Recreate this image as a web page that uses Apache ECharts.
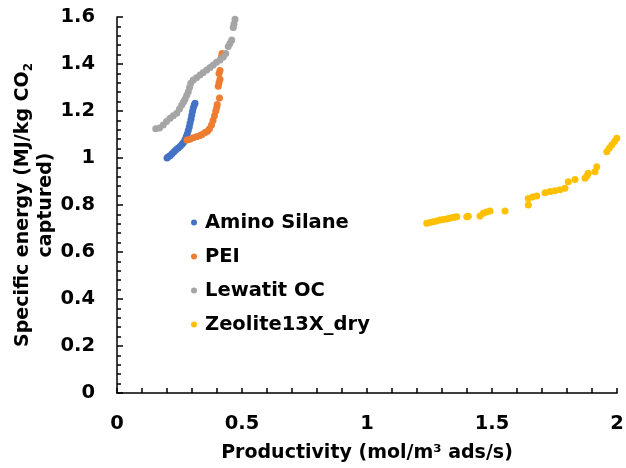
<!DOCTYPE html>
<html><head><meta charset="utf-8">
<script src="https://cdn.jsdelivr.net/npm/echarts@6/dist/echarts.min.js"></script>
<style>html,body{margin:0;padding:0;background:#fff}#c{width:626px;height:468px}</style>
</head><body><div id="c"></div>
<script>
const seriesNames = ['Amino Silane','PEI','Lewatit OC','Zeolite13X_dry'];
const xTicks = [0,0.5,1,1.5,2];
const yTicks = [0,0.2,0.4,0.6,0.8,1,1.2,1.4,1.6];
const aminoSilane = [[0.200,1.000],[0.205,1.005],[0.212,1.010],[0.220,1.018],[0.228,1.027],[0.236,1.035],[0.245,1.043],[0.253,1.050],[0.260,1.058],[0.266,1.066],[0.272,1.078],[0.277,1.090],[0.281,1.102],[0.285,1.117],[0.289,1.132],[0.292,1.148],[0.296,1.165],[0.299,1.182],[0.302,1.198],[0.305,1.213],[0.309,1.226],[0.312,1.233]];
const pei = [[0.280,1.077],[0.292,1.080],[0.305,1.086],[0.318,1.090],[0.330,1.095],[0.340,1.100],[0.352,1.108],[0.362,1.114],[0.370,1.125],[0.378,1.140],[0.384,1.160],[0.390,1.180],[0.395,1.200],[0.399,1.215],[0.401,1.228],[0.410,1.255],[0.405,1.305],[0.408,1.320],[0.412,1.335],[0.408,1.360],[0.412,1.372],[0.418,1.432],[0.420,1.445]];
const lewatitOC = [[0.155,1.125],[0.170,1.128],[0.185,1.140],[0.198,1.155],[0.212,1.169],[0.225,1.180],[0.239,1.190],[0.250,1.208],[0.259,1.226],[0.266,1.238],[0.272,1.250],[0.279,1.267],[0.285,1.282],[0.290,1.300],[0.295,1.318],[0.305,1.332],[0.318,1.342],[0.332,1.353],[0.345,1.364],[0.359,1.374],[0.372,1.385],[0.385,1.396],[0.398,1.407],[0.412,1.417],[0.425,1.430],[0.435,1.445],[0.445,1.474],[0.452,1.488],[0.459,1.502],[0.465,1.555],[0.468,1.570],[0.472,1.590]];
const zeolite13X = [[1.239,0.722],[1.252,0.726],[1.265,0.729],[1.278,0.732],[1.292,0.736],[1.305,0.738],[1.319,0.740],[1.329,0.744],[1.339,0.746],[1.349,0.748],[1.359,0.750],[1.399,0.750],[1.405,0.752],[1.452,0.753],[1.465,0.765],[1.478,0.770],[1.492,0.774],[1.552,0.774],[1.645,0.800],[1.645,0.828],[1.662,0.834],[1.679,0.838],[1.712,0.852],[1.732,0.857],[1.752,0.861],[1.772,0.865],[1.792,0.871],[1.805,0.899],[1.832,0.909],[1.872,0.914],[1.880,0.925],[1.885,0.935],[1.912,0.942],[1.919,0.963],[1.959,1.027],[1.969,1.042],[1.979,1.055],[1.990,1.070],[1.999,1.084]];
const colors = ['#4472C4','#ED7D31','#A5A5A5','#FFC000'];
const dataSets = [aminoSilane, pei, lewatitOC, zeolite13X];
const font = '"DejaVu Sans", Arial, sans-serif';
const fs = 19.5;
const chart = echarts.init(document.getElementById('c'), null, {renderer:'canvas'});
chart.setOption({
  animation:false,
  grid:{left:117,right:9,top:17,bottom:75,containLabel:false,outerBoundsMode:'none'},
  legend:{orient:'vertical',left:191,top:211,padding:0,itemWidth:6,itemHeight:6,itemGap:11,icon:'circle',
    textStyle:{fontFamily:font,fontWeight:'bold',fontSize:fs,color:'#000',lineHeight:23,padding:[0,0,0,3]},
    data:seriesNames},
  xAxis:{type:'value',min:0,max:2,interval:0.5,
    name:'Productivity (mol/m³ ads/s)',nameLocation:'middle',nameGap:51,nameMoveOverlap:false,
    nameTextStyle:{fontFamily:font,fontWeight:'bold',fontSize:19,color:'#000'},
    axisLine:{show:true,lineStyle:{color:'#000',width:1.5}},
    axisTick:{show:true,inside:true,length:5,lineStyle:{color:'#000',width:1.5}},
    minorTick:{show:true,splitNumber:5,length:5,lineStyle:{color:'#000',width:1.5}},
    splitLine:{show:false},
    axisLabel:{fontFamily:font,fontWeight:'bold',fontSize:fs,color:'#000',margin:21,
      formatter:v=>xTicks.includes(v)?String(v):''}},
  yAxis:{type:'value',min:0,max:1.6,interval:0.2,
    name:'Specific energy (MJ/kg CO{sub|2}\ncaptured)',nameLocation:'middle',nameGap:59,nameMoveOverlap:false,
    nameTextStyle:{fontFamily:font,fontWeight:'bold',fontSize:19,color:'#000',lineHeight:23,align:'center',
      rich:{sub:{fontFamily:font,fontWeight:'bold',fontSize:12,color:'#000',verticalAlign:'bottom',padding:[7,0,0,0]}}},
    axisLine:{show:true,lineStyle:{color:'#000',width:1.5}},
    axisTick:{show:true,inside:true,length:6,lineStyle:{color:'#000',width:1.5}},
    minorTick:{show:true,splitNumber:5,length:4,lineStyle:{color:'#000',width:1.5}},
    splitLine:{show:false},
    axisLabel:{fontFamily:font,fontWeight:'bold',fontSize:fs,color:'#000',margin:22,
      formatter:v=>{const t=yTicks.find(k=>Math.abs(k-v)<1e-9);return t===undefined?'':String(t);}}},
  series: seriesNames.map((n,i)=>({name:n,type:'scatter',symbol:'circle',symbolSize:7,
    itemStyle:{color:colors[i],opacity:1},data:dataSets[i]}))
});
</script></body></html>
